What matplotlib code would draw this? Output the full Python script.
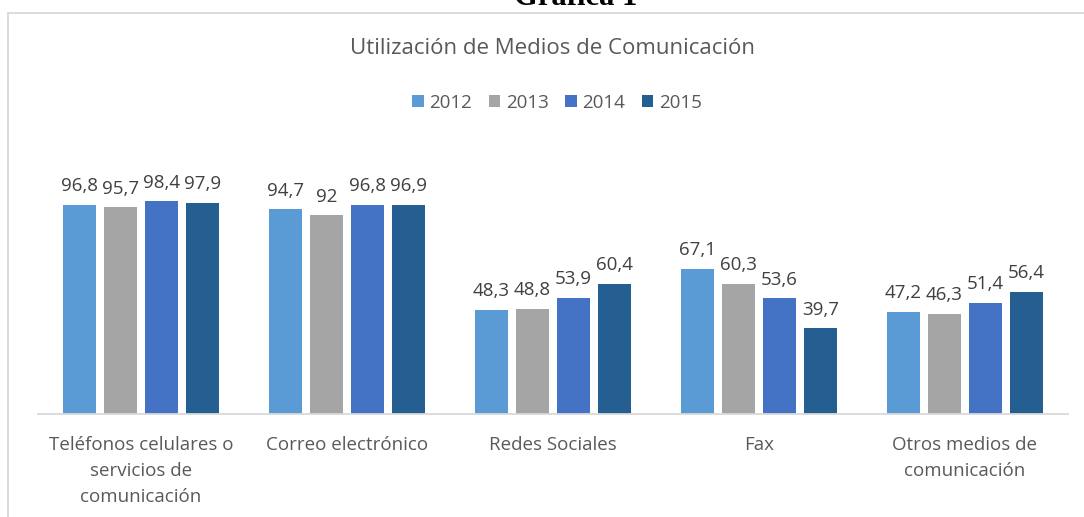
import matplotlib.pyplot as plt
import numpy as np
from matplotlib.patches import Rectangle

categories = [
    "Teléfonos celulares o\nservicios de\ncomunicación",
    "Correo electrónico",
    "Redes Sociales",
    "Fax",
    "Otros medios de\ncomunicación",
]
years = ["2012", "2013", "2014", "2015"]
v2012 = [96.8, 94.7, 48.3, 67.1, 47.2]
v2013 = [95.7, 92, 48.8, 60.3, 46.3]
v2014 = [98.4, 96.8, 53.9, 53.6, 51.4]
v2015 = [97.9, 96.9, 60.4, 39.7, 56.4]
series = [v2012, v2013, v2014, v2015]
colors = ["#5B9BD5", "#A5A5A5", "#4472C4", "#255E91"]

W, H = 1084, 517
fig = plt.figure(figsize=(W / 100, H / 100), dpi=100)
plt.rcParams["font.family"] = ["Open Sans", "DejaVu Sans"]

# chart frame
fig.patches.append(Rectangle((8 / W, -0.1), 1.2, 1 - 12.5 / H + 0.1,
                             transform=fig.transFigure, fill=False,
                             edgecolor="#d9d9d9", linewidth=1.3))

fig.text(576 / W, 1 - 5 / H, "Gráfica 1", ha="center", va="baseline",
         fontsize=22, fontweight="bold", family="Liberation Serif")

ymax = 110
ax = fig.add_axes([38 / W, (H - 414) / H, (1068 - 38) / W, ymax * 2.16 / H])
x = np.arange(len(categories))
step = 41 / 206
width = 33 / 206
for i, (vals, c, yr) in enumerate(zip(series, colors, years)):
    pos = x + (i - 1.5) * step
    bars = ax.bar(pos, vals, width, color=c, label=yr)
    labels = [("%g" % v).replace(".", ",") for v in vals]
    ax.bar_label(bars, labels=labels, padding=7, fontsize=13.5, color="#404040")

ax.set_xlim(-0.5, len(categories) - 0.5)
ax.set_ylim(0, ymax)
ax.set_yticks([])
for s in ["top", "right", "left"]:
    ax.spines[s].set_visible(False)
ax.spines["bottom"].set_color("#d9d9d9")
ax.spines["bottom"].set_linewidth(1.3)
ax.set_xticks(x)
ax.set_xticklabels(categories, fontsize=13.5, color="#595959", linespacing=1.55)
ax.tick_params(axis="x", length=0, pad=16)
ax.patch.set_alpha(0)

fig.text(553 / W, 1 - 48 / H, "Utilización de Medios de Comunicación",
         ha="center", va="center", fontsize=16, color="#595959")
fig.legend(loc="center", bbox_to_anchor=(557 / W, 1 - 103 / H), ncol=4,
           frameon=False, fontsize=13.5, handlelength=0.6, handleheight=0.6,
           handletextpad=0.3, columnspacing=0.9, labelcolor="#595959")

fig.savefig("out.png", dpi=100)
